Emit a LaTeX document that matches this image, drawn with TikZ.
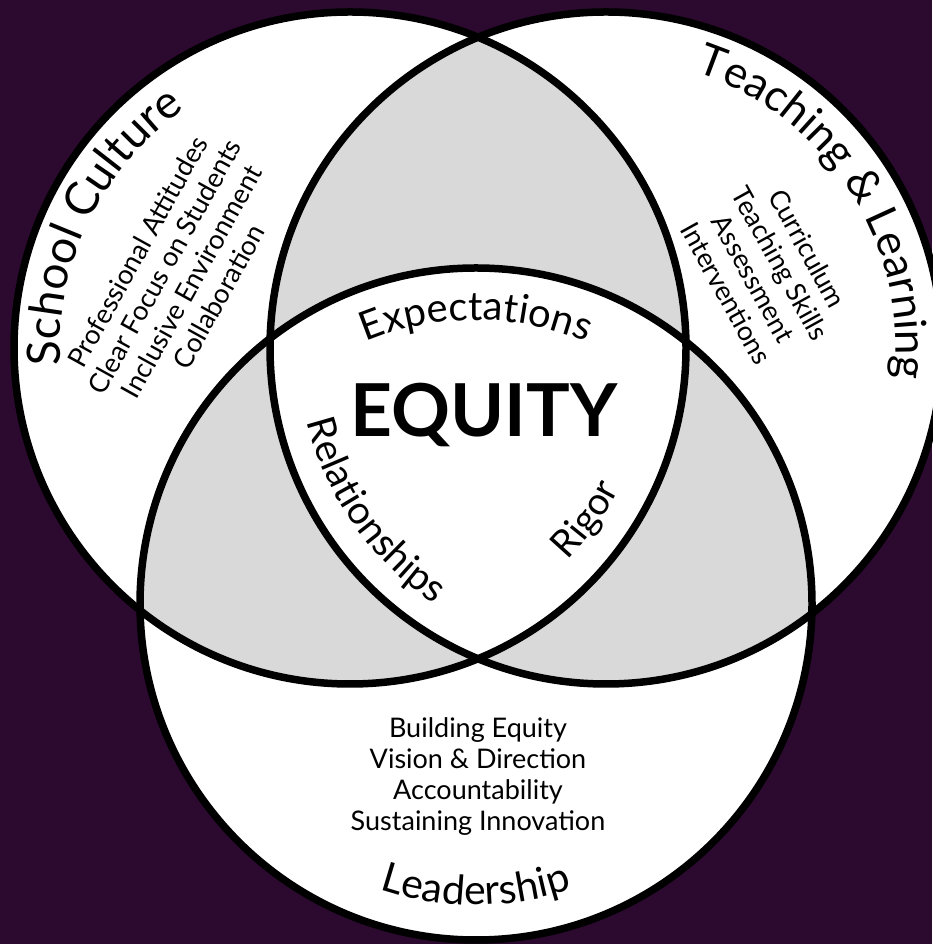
\documentclass[tikz,border=0pt]{standalone}
\usepackage{fontspec}
\setmainfont{Lato}
\usetikzlibrary{decorations.text,calc}
\definecolor{bgpurple}{RGB}{44,10,48}
\definecolor{lapgray}{RGB}{217,217,217}
\tikzset{
  ring/.style={line width=7.5pt, draw=black},
  listtext/.style={align=center, inner sep=0pt, font=\fontsize{27}{31}\selectfont},
  bigtext/.style={inner sep=0pt, font=\fontsize{73}{73}\selectfont\bfseries}
}
\newcommand{\arctext}[6]{% center, radius, start, end, size, text
  \path[decorate,decoration={text along path, text align=center,
    text={|\fontsize{#5}{#5}\selectfont|#6}}]
    ($(#1)+(#3:#2)$) arc[start angle=#3, end angle=#4, radius=#2];
}
\begin{document}
\begin{tikzpicture}[x=1pt,y=1pt]
\useasboundingbox (0,0) rectangle (932,944);
\fill[bgpurple] (0,0) rectangle (932,944);
\coordinate (L) at (350,596);
\coordinate (R) at (606,596);
\coordinate (B) at (476,340);
\def\rad{336}
\fill[white] (L) circle[radius=\rad];
\fill[white] (R) circle[radius=\rad];
\fill[white] (B) circle[radius=\rad];
\begin{scope}
  \clip (L) circle[radius=\rad];
  \fill[lapgray] (R) circle[radius=\rad];
  \fill[lapgray] (B) circle[radius=\rad];
\end{scope}
\begin{scope}
  \clip (R) circle[radius=\rad];
  \fill[lapgray] (B) circle[radius=\rad];
\end{scope}
\begin{scope}
  \clip (L) circle[radius=\rad];
  \clip (R) circle[radius=\rad];
  \fill[white] (B) circle[radius=\rad];
\end{scope}
\draw[ring] (L) circle[radius=\rad];
\draw[ring] (R) circle[radius=\rad];
\draw[ring] (B) circle[radius=\rad];
% curved titles
\arctext{L}{290}{203}{105}{46}{School Culture}
\arctext{R}{290}{89}{-23}{44}{Teaching {\&} Learning}
\arctext{B}{301}{235}{305}{41}{Leadership}
\arctext{B}{284}{130}{50}{40}{Expectations}
\arctext{R}{308}{177}{253}{39}{Relationships}
\arctext{L}{304}{-60}{-12}{38}{Rigor}
% lists
\node[listtext, rotate=61] (sclist) at (178,670) {Professional Attitudes\\Clear Focus on Students\\Inclusive Environment\\Collaboration};
\node[listtext, rotate=-61] (tllist) at (767,673) {Curriculum\\Teaching Skills\\Assessment\\Interventions};
\node[listtext] (ldlist) at (478,167) {Building Equity\\Vision \& Direction\\Accountability\\Sustaining Innovation};
\node[bigtext] (equity) at (484,529) {EQUITY};
\end{tikzpicture}
\end{document}
